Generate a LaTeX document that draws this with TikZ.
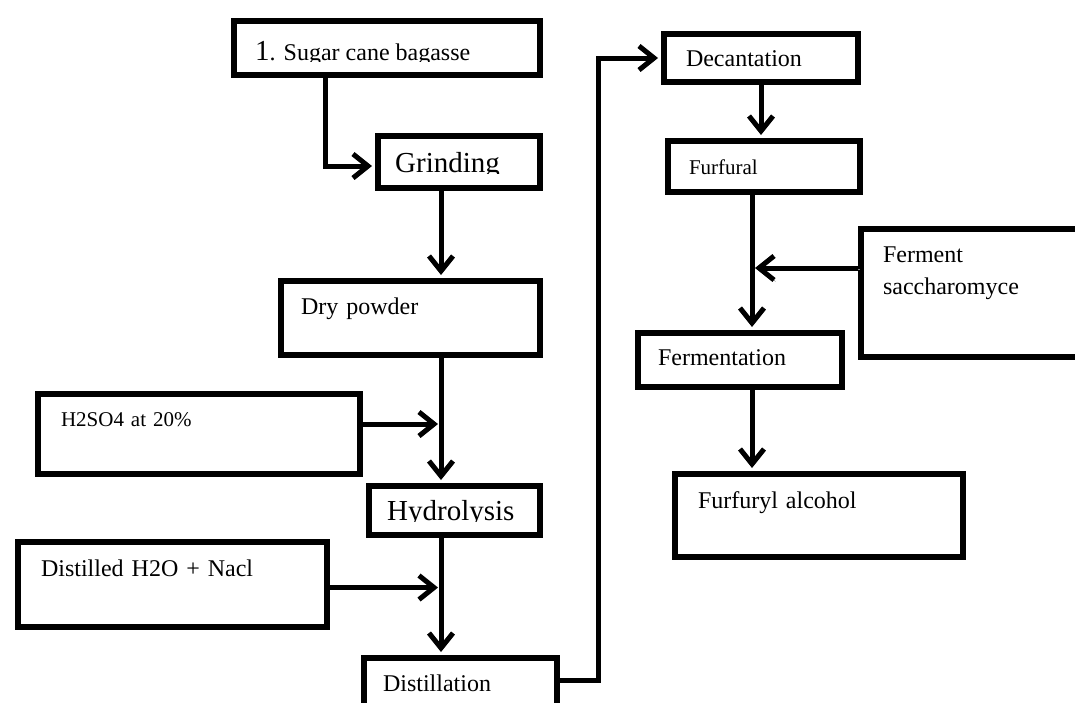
\documentclass[tikz,border=0pt]{standalone}
\usepackage{fontspec}
\setmainfont{Liberation Serif}
\usetikzlibrary{arrows.meta}
\newcommand{\bigsz}[0]{\fontsize{29}{34}\selectfont}
\newcommand{\midsz}[0]{\fontsize{24}{32}\selectfont}
\newcommand{\smlsz}[0]{\fontsize{21}{25}\selectfont}
\tikzstyle{block} = [rectangle, draw, line width=6pt, inner sep=0pt, anchor=north west, align=left, font=\midsz]
\tikzstyle{cut} = [anchor=base west, inner sep=0pt]
\tikzstyle{line} = [draw, line width=5pt, shorten >=3pt, -{Straight Barb[length=15pt,width=24pt]},
    preaction={draw=black!45, transform canvas={shift={(1.5,1.5)}}}]

\begin{document}
\begin{tikzpicture}[x=1pt,y=-1pt]
\useasboundingbox (0,0) rectangle (1075,702);
\clip (0,0) rectangle (1075,702);

% arrows
\coordinate (drop) at (325,0);
\coordinate (spine) at (441,0);
\coordinate (riser) at (598,680);
\coordinate (trunk) at (752,0);

% left column
\node [block, minimum width=306, minimum height=54] (sugar) at (231,18) {};
\node [block, minimum width=162, minimum height=52] (grinding) at (375,133) {};
\node [block, inner xsep=20, text width=219, text height=33, text depth=41] (dry) at (278,278) {Dry powder};
\node [block, font=\smlsz, inner xsep=23, text width=276, text height=32, text depth=48] (h2so4) at (35,391) {H2SO4 at 20\%};
\node [block, minimum width=171, minimum height=49] (hydro) at (366,483) {};
\node [block, inner xsep=23, text width=263, text height=34, text depth=51] (distilled) at (15,539) {Distilled H2O + Nacl};
\node [block, inner xsep=19, text width=155, text height=33, text depth=47] (distillation) at (361,655) {Distillation};

% texts cut off at their baseline
\begin{scope}
\clip (231,18) rectangle (537,61);
\node [cut, font=\midsz] (sugar_txt) at (255,60) {{\bigsz 1}. Sugar cane bagasse};
\end{scope}
\begin{scope}
\clip (375,133) rectangle (537,173);
\node [cut, font=\bigsz] (grinding_txt) at (395,172) {Grinding};
\end{scope}
\begin{scope}
\clip (366,483) rectangle (537,521);
\node [cut, font=\bigsz] (hydro_txt) at (387,520) {Hydrolysis};
\end{scope}

% right column
\node [block, inner xsep=22, text width=150, text height=32, text depth=16] (decant) at (661,31) {Decantation};
\node [block, font=\smlsz, inner xsep=21, text width=150, text height=33, text depth=18] (furfural) at (665,138) {Furfural};
\node [block, inner xsep=22, text width=196, text height=33, text depth=95] (ferment) at (858,226) {Ferment\\saccharomyce};
\node [block, inner xsep=20, text width=164, text height=32, text depth=22] (fermentation) at (635,330) {Fermentation};
\node [block, inner xsep=23, text width=242, text height=34, text depth=49] (alcohol) at (672,471) {Furfuryl alcohol};

\path [line] (sugar.south -| drop) |- ([yshift=-4]grinding.west);
\path [line] (grinding.south -| spine) -- (dry.north -| spine);
\path [line] (dry.south -| spine) -- (hydro.north -| spine);
\path [line] ([yshift=10]h2so4.east) -- ([yshift=10]h2so4.east -| spine);
\path [line] (hydro.south -| spine) -- (distillation.north -| spine);
\path [line] ([yshift=-3]distilled.east) -- ([yshift=-3]distilled.east -| spine);

\path [line] (distillation.east |- riser) -- (riser) |- (decant.west);

\path [line] (decant.south) -- (decant.south |- furfural.north);
\path [line] (furfural.south -| trunk) -- (fermentation.north -| trunk);
\path [line] ([yshift=25]ferment.west) -- ([yshift=25]ferment.west -| trunk);
\path [line] (fermentation.south -| trunk) -- (alcohol.north -| trunk);

\end{tikzpicture}
\end{document}
